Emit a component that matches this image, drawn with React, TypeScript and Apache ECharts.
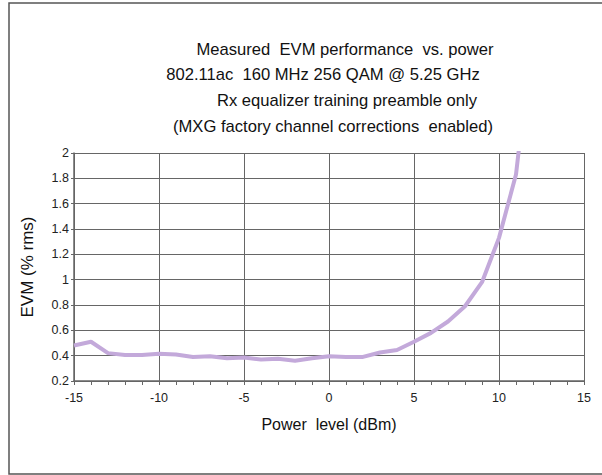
import React, { useEffect, useRef } from "react";
import * as echarts from "echarts";

const powerDbm = [-15, -14, -13, -12, -11, -10, -9, -8, -7, -6, -5, -4, -3, -2, -1, 0, 1, 2, 3, 4, 5, 6, 7, 8, 9, 10, 11, 12];
const evmPct = [0.48, 0.51, 0.42, 0.405, 0.405, 0.415, 0.41, 0.39, 0.395, 0.38, 0.385, 0.37, 0.375, 0.36, 0.38, 0.395, 0.39, 0.39, 0.425, 0.445, 0.51, 0.58, 0.67, 0.79, 0.98, 1.33, 1.83, 3.0];
const titleLines = [
  "Measured  EVM performance  vs. power",
  "802.11ac  160 MHz 256 QAM @ 5.25 GHz",
  "Rx equalizer training preamble only",
  "(MXG factory channel corrections  enabled)",
];
const xAxisName = "Power  level (dBm)";
const yAxisName = "EVM (% rms)";

const FONT = "Liberation Sans, Arial, sans-serif";

export default function App() {
  const ref = useRef<HTMLDivElement>(null);
  useEffect(() => {
    if (!ref.current) return;
    const chart = echarts.init(ref.current, undefined, { renderer: "svg" });
    const titleX = [345, 323, 347, 333];
    const titleY = [49, 74, 100, 126];
    chart.setOption({
      animation: false,
      backgroundColor: "#ffffff",
      textStyle: { fontFamily: FONT },
      grid: { left: 74, right: 18, top: 153, bottom: 94 },
      graphic: [
        {
          type: "rect",
          shape: { x: 9, y: 3, width: 620, height: 471 },
          style: { fill: "none", stroke: "#555555", lineWidth: 1.5 },
          silent: true,
        },
        ...titleLines.map((t, i) => ({
          type: "text",
          x: titleX[i],
          y: titleY[i],
          style: {
            text: t,
            fontSize: 16.6,
            fontFamily: FONT,
            fill: "#111111",
            textAlign: "center",
            textVerticalAlign: "middle",
          },
        })),
      ],
      xAxis: {
        type: "value",
        min: -15,
        max: 15,
        interval: 5,
        name: xAxisName,
        nameLocation: "middle",
        nameGap: 35,
        nameTextStyle: { fontSize: 16, color: "#111", fontFamily: FONT },
        axisLine: { show: true, onZero: false, lineStyle: { color: "#666", width: 1.5 } },
        axisTick: { show: true, length: 4, inside: false, lineStyle: { color: "#666" } },
        minorTick: { show: true, splitNumber: 5, length: 4, lineStyle: { color: "#666" } },
        axisLabel: { fontSize: 12.5, color: "#222", margin: 10, fontFamily: FONT },
        splitLine: { show: true, lineStyle: { color: "#666", width: 1 } },
      },
      yAxis: {
        type: "value",
        min: 0.2,
        max: 2,
        interval: 0.2,
        name: yAxisName,
        nameLocation: "middle",
        nameGap: 38,
        nameTextStyle: { fontSize: 17, color: "#111", fontFamily: FONT },
        axisLine: { show: true, onZero: false, lineStyle: { color: "#666", width: 1.5 } },
        axisTick: { show: true, length: 3, lineStyle: { color: "#666" } },
        axisLabel: {
          fontSize: 12.5,
          color: "#222",
          margin: 5,
          fontFamily: FONT,
          formatter: (v: number) => String(Math.round(v * 10) / 10),
        },
        splitLine: { show: true, lineStyle: { color: "#666", width: 1 } },
      },
      series: [
        {
          type: "line",
          data: powerDbm.map((x, i) => [x, evmPct[i]]),
          showSymbol: false,
          symbol: "none",
          clip: true,
          lineStyle: { color: "#c3a9da", width: 4 },
        },
      ],
    });
    return () => chart.dispose();
  }, []);
  return (
    <div
      ref={ref}
      style={{ position: "absolute", left: 0, top: 0, width: 602, height: 475 }}
    />
  );
}
